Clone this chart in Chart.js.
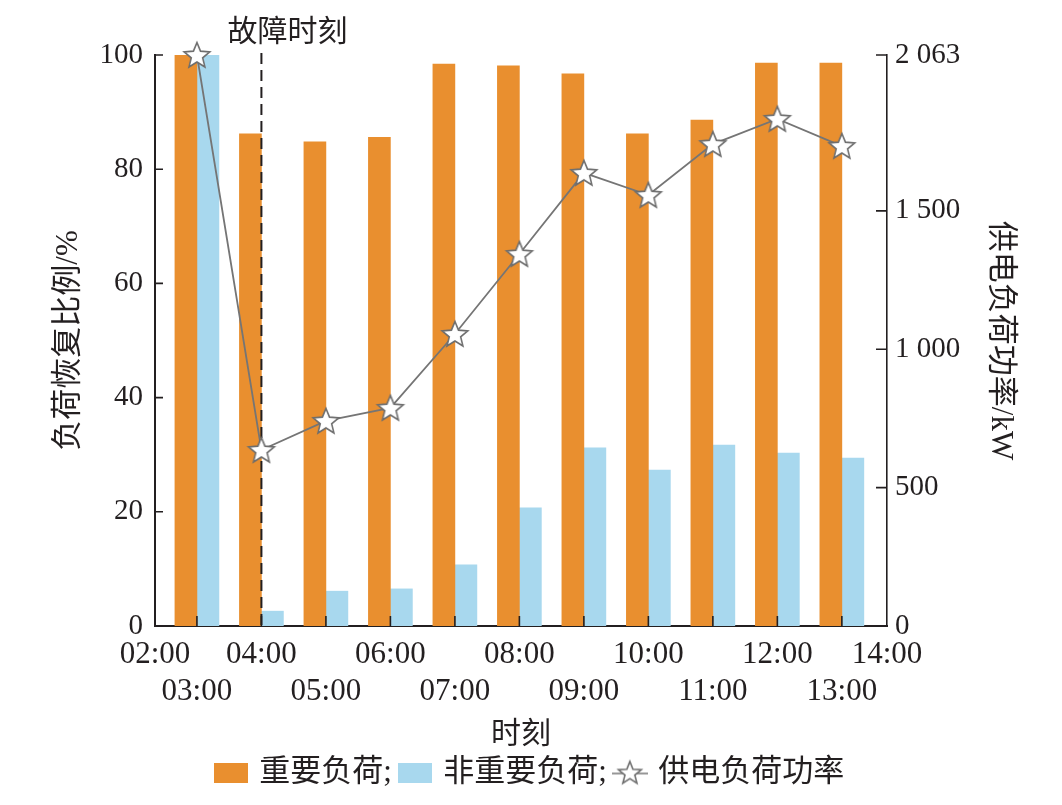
<!DOCTYPE html>
<html>
<head>
<meta charset="utf-8">
<script src="https://cdn.jsdelivr.net/npm/chart.js"></script>
<style>
  html, body { margin: 0; padding: 0; background: #fff; }
</style>
</head>
<body>
<canvas id="myChart" width="1062" height="805"></canvas>
<script>
// data
const hours = [3, 4, 5, 6, 7, 8, 9, 10, 11, 12, 13];
const tickLabels = ["02:00", "03:00", "04:00", "05:00", "06:00", "07:00", "08:00",
  "09:00", "10:00", "11:00", "12:00", "13:00", "14:00"];
const importantLoad = [100, 86.2, 84.8, 85.6, 98.4, 98.1, 96.7, 86.2, 88.6, 98.6, 98.6];
const normalLoad = [100, 2.6, 6.1, 6.5, 10.7, 20.7, 31.2, 27.3, 31.7, 30.3, 29.4];
const supplyPower = [2063, 636, 741, 788, 1055, 1344, 1637, 1557, 1741, 1832, 1734];
const powerTicks = [0, 500, 1000, 1500, 2063];
const seriesNames = ["重要负荷", "非重要负荷", "供电负荷功率"];
const faultHour = 4;
const faultLabel = "故障时刻";

const xMin = 2.35, xMax = 13.7;
const ink = "#231f20";
const orange = "#e98f2f";
const blue = "#a8d8ee";
const grey = "#757575";

Chart.defaults.font.family = '"Liberation Serif", "Noto Sans CJK SC", serif';
Chart.defaults.color = ink;

function starPath(g, cx, cy, R, r) {
  g.beginPath();
  for (let i = 0; i < 10; i++) {
    const rad = i % 2 === 0 ? R : r;
    const a = -Math.PI / 2 + i * Math.PI / 5;
    const px = cx + rad * Math.cos(a), py = cy + rad * Math.sin(a);
    if (i === 0) g.moveTo(px, py); else g.lineTo(px, py);
  }
  g.closePath();
}

function starIcon(size, R, r) {
  const c = document.createElement("canvas");
  c.width = size; c.height = size;
  const g = c.getContext("2d");
  starPath(g, size / 2, size / 2 + 1, R, r);
  g.fillStyle = "#fff";
  g.fill();
  g.strokeStyle = "#6d6d6d";
  g.lineWidth = 1.6;
  g.stroke();
  return c;
}

function boxIcon(color) {
  const c = document.createElement("canvas");
  c.width = 34; c.height = 20;
  const g = c.getContext("2d");
  g.fillStyle = color;
  g.fillRect(0, 0, 34, 20);
  return c;
}

function lineStarIcon() {
  const c = document.createElement("canvas");
  c.width = 36; c.height = 28;
  const g = c.getContext("2d");
  g.strokeStyle = grey;
  g.lineWidth = 1.6;
  g.beginPath();
  g.moveTo(0, 15); g.lineTo(36, 15);
  g.stroke();
  starPath(g, 18, 15, 12, 5.2);
  g.fillStyle = "#fff";
  g.fill();
  g.strokeStyle = "#6d6d6d";
  g.stroke();
  return c;
}

const legendIcons = [boxIcon(orange), boxIcon(blue), lineStarIcon()];
const pointStar = starIcon(32, 13.5, 6);

function spaced(v) {
  return String(v).replace(/\B(?=(\d{3})+(?!\d))/g, " ");
}

const axisMarks = {
  id: "axisMarks",
  beforeDatasetDraw(chart, args) {
    if (args.meta.type !== "line") return;
    const { ctx, chartArea: a, scales: { x } } = chart;
    const px = x.getPixelForValue(faultHour);
    ctx.save();
    ctx.setLineDash([11, 6]);
    ctx.strokeStyle = ink;
    ctx.lineWidth = 2;
    ctx.beginPath();
    ctx.moveTo(px, a.top - 2);
    ctx.lineTo(px, a.bottom);
    ctx.stroke();
    ctx.restore();
  },
  afterDraw(chart) {
    const { ctx, chartArea: a, scales: { x, y, y1 } } = chart;
    ctx.save();
    ctx.strokeStyle = ink;
    ctx.lineWidth = 1.6;
    ctx.beginPath();
    y.ticks.forEach(t => {
      const p = y.getPixelForValue(t.value);
      ctx.moveTo(a.left, p); ctx.lineTo(a.left + 8, p);
    });
    y1.ticks.forEach(t => {
      const p = y1.getPixelForValue(t.value);
      ctx.moveTo(a.right, p); ctx.lineTo(a.right - 11, p);
    });
    hours.forEach(h => {
      const p = x.getPixelForValue(h);
      ctx.moveTo(p, a.bottom); ctx.lineTo(p, a.bottom - 10);
    });
    ctx.stroke();
    // label over the fault line
    ctx.fillStyle = ink;
    ctx.font = '30px "Liberation Serif", "Noto Sans CJK SC"';
    ctx.textAlign = "center";
    ctx.textBaseline = "middle";
    ctx.fillText(faultLabel, x.getPixelForValue(faultHour) + 26, 33);
    ctx.restore();
  }
};

new Chart("myChart", {
  type: "bar",
  data: {
    datasets: [
      {
        label: seriesNames[0],
        data: hours.map((h, i) => ({ x: h, y: importantLoad[i] })),
        backgroundColor: orange,
        yAxisID: "y",
        order: 1,
      },
      {
        label: seriesNames[1],
        data: hours.map((h, i) => ({ x: h, y: normalLoad[i] })),
        backgroundColor: blue,
        yAxisID: "y",
        order: 1,
      },
      {
        type: "line",
        label: seriesNames[2],
        data: hours.map((h, i) => ({ x: h, y: supplyPower[i] })),
        borderColor: grey,
        borderWidth: 1.8,
        pointStyle: pointStar,
        tension: 0,
        clip: false,
        yAxisID: "y1",
        order: 0,
      },
    ],
  },
  options: {
    responsive: false,
    animation: false,
    devicePixelRatio: 1,
    barThickness: 22,
    layout: { padding: { top: 55, bottom: 7, left: 0, right: 0 } },
    plugins: {
      tooltip: { enabled: false },
      legend: {
        position: "bottom",
        labels: {
          usePointStyle: true,
          pointStyleWidth: 26,
          padding: 10,
          font: { size: 31 },
          color: ink,
          generateLabels: (chart) => chart.data.datasets.map((ds, i) => ({
            text: i < 2 ? ds.label + ";" : ds.label,
            pointStyle: legendIcons[i],
            fontColor: ink,
            fillStyle: "transparent",
            strokeStyle: "transparent",
            lineWidth: 0,
            hidden: false,
            datasetIndex: i,
          })),
        },
      },
    },
    scales: {
      x: {
        type: "linear",
        min: xMin,
        max: xMax,
        offset: false,
        grid: { display: false, drawTicks: false },
        border: { color: ink, width: 2 },
        afterBuildTicks: (s) => {
          s.ticks = [xMin, ...hours, xMax].map(v => ({ value: v }));
        },
        afterFit: (s) => { s.height = 121; },
        ticks: {
          autoSkip: false,
          maxRotation: 0,
          minRotation: 0,
          padding: 11,
          font: { size: 31, lineHeight: 1.17 },
          callback: (v, i) => (i % 2 === 0 ? [tickLabels[i], ""] : ["", tickLabels[i]]),
        },
        title: {
          display: true,
          text: "时刻",
          font: { size: 30 },
          padding: { top: 0, bottom: -6 },
        },
      },
      y: {
        position: "left",
        min: 0,
        max: 100,
        grid: { display: false, drawTicks: false },
        border: { color: ink, width: 2 },
        afterFit: (s) => { s.width = 155; },
        ticks: { stepSize: 20, padding: 12, font: { size: 29 } },
        title: {
          display: true,
          text: "负荷恢复比例/%",
          font: { size: 31 },
          padding: { top: 50, bottom: 0 },
        },
      },
      y1: {
        position: "right",
        min: 0,
        max: 2063,
        grid: { display: false, drawTicks: false },
        border: { color: ink, width: 1.6 },
        afterBuildTicks: (s) => {
          s.ticks = powerTicks.map(v => ({ value: v }));
        },
        afterFit: (s) => { s.width = 175; },
        ticks: { padding: 8, font: { size: 29 }, callback: (v) => spaced(v) },
        title: {
          display: true,
          text: "供电负荷功率/kW",
          font: { size: 31 },
          padding: { top: 43, bottom: 0 },
        },
      },
    },
  },
  plugins: [axisMarks],
});
</script>
</body>
</html>
